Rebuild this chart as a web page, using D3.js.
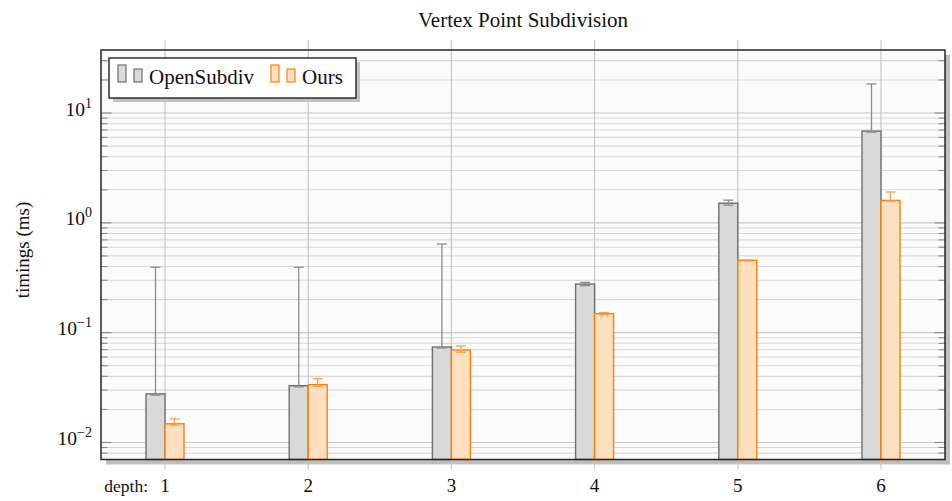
<!DOCTYPE html>
<html><head><meta charset="utf-8">
<script src="https://cdn.jsdelivr.net/npm/d3@7/dist/d3.min.js"></script>
<style>body{margin:0;background:#fff}svg{display:block}text{font-family:"Liberation Serif","Times New Roman",serif;fill:#111}</style>
</head><body><svg id="c" width="952" height="501"></svg>
<script>
const depths = [1, 2, 3, 4, 5, 6];
const openSubdiv   = [0.0277, 0.0329, 0.0740, 0.277, 1.51, 6.85];
const openSubdivHi = [0.394, 0.394, 0.641, 0.287, 1.61, 18.4];
const openSubdivLo = [0.0270, 0.0322, 0.0725, 0.268, 1.45, 6.7];
const ours   = [0.0148, 0.0336, 0.0695, 0.149, 0.456, 1.60];
const oursHi = [0.0164, 0.0381, 0.0757, 0.152, 0.460, 1.91];
const oursLo = [0.0144, 0.0326, 0.0665, 0.146, 0.450, 1.58];
const yTickExps = [-2, -1, 0, 1];
const seriesNames = ["OpenSubdiv", "Ours"];

const L = 101, R = 945, T = 50, B = 459.5;
const svg = d3.select("#c");
const x = d3.scaleLinear().domain([0.553, 6.447]).range([L, R]);
const y = d3.scaleLog().domain([0.007, 37.5]).range([B, T]);
const bw = 19;

// shadow + background
svg.append("rect").attr("x", L + 5).attr("y", T + 5).attr("width", R - L).attr("height", B - T).attr("fill", "#bfbfbf");
svg.append("rect").attr("x", L).attr("y", T).attr("width", R - L).attr("height", B - T).attr("fill", "#fbfbfb");

// grid
const minor = [];
for (let e = -3; e <= 2; e++) for (let m = 1; m <= 9; m++) { const v = m * Math.pow(10, e); if (v >= 0.007 && v <= 37.5) minor.push({v, major: m === 1}); }
const g = svg.append("g");
g.selectAll("line.h").data(minor).join("line")
  .attr("x1", L).attr("x2", R).attr("y1", d => y(d.v)).attr("y2", d => y(d.v))
  .attr("stroke", d => d.major ? "#c8c8c8" : "#d8d8d8").attr("stroke-width", 1.1);
g.selectAll("line.v").data(depths).join("line")
  .attr("x1", d => x(d)).attr("x2", d => x(d)).attr("y1", T - 10).attr("y2", B + 10)
  .attr("stroke", "#c4c4c4").attr("stroke-width", 1.1);
// y ticks inside left and right
[L, R].forEach((edge, i) => {
  const dir = i === 0 ? 1 : -1;
  g.selectAll(null).data(minor).join("line")
    .attr("x1", edge).attr("x2", d => edge + dir * (d.major ? 10.5 : 6.5))
    .attr("y1", d => y(d.v)).attr("y2", d => y(d.v))
    .attr("stroke", "#8a8a8a").attr("stroke-width", 1.1);
});

// bars
const gb = svg.append("g");
function drawSeries(vals, hi, lo, off, fill, stroke, err) {
  gb.selectAll(null).data(depths).join("rect")
    .attr("x", (d) => x(d) + off).attr("width", bw)
    .attr("y", (d, i) => y(vals[i])).attr("height", (d, i) => B - y(vals[i]))
    .attr("fill", fill).attr("stroke", stroke).attr("stroke-width", 1.4);
  const cx = d => x(d) + off + bw / 2;
  gb.selectAll(null).data(depths).join("line")
    .attr("x1", cx).attr("x2", cx).attr("y1", (d, i) => y(hi[i])).attr("y2", (d, i) => y(lo[i]))
    .attr("stroke", err).attr("stroke-width", 1.3);
  [hi, lo].forEach(arr => {
    gb.selectAll(null).data(depths).join("line")
      .attr("x1", d => cx(d) - 5).attr("x2", d => cx(d) + 5)
      .attr("y1", (d, i) => y(arr[i])).attr("y2", (d, i) => y(arr[i]))
      .attr("stroke", err).attr("stroke-width", 1.3);
  });
}
drawSeries(openSubdiv, openSubdivHi, openSubdivLo, -bw, "#d9d9d9", "#6e6e6e", "#8c8c8c");
drawSeries(ours, oursHi, oursLo, 0, "#ffdfbf", "#ff8000", "#ffa040");

// frame
svg.append("rect").attr("x", L).attr("y", T).attr("width", R - L).attr("height", B - T)
  .attr("fill", "none").attr("stroke", "#262626").attr("stroke-width", 1.5);

// y tick labels
const yl = svg.append("g");
yTickExps.forEach(e => {
  const t = yl.append("text").attr("x", 92).attr("y", y(Math.pow(10, e)) + 2.5).attr("text-anchor", "end").style("font-size", "19.5px");
  t.append("tspan").text("10");
  t.append("tspan").attr("dy", -8).style("font-size", "14px").text(e < 0 ? "\u2212" + (-e) : String(e));
});
// x tick labels
svg.selectAll("text.xt").data(depths).join("text")
  .attr("x", d => x(d)).attr("y", 492).attr("text-anchor", "middle").style("font-size", "19px").text(d => d);
svg.append("text").attr("x", 148).attr("y", 492).attr("text-anchor", "end").style("font-size", "17.5px").text("depth:");

// title + y label
svg.append("text").attr("x", 523).attr("y", 26.5).attr("text-anchor", "middle").style("font-size", "21px").text("Vertex Point Subdivision");
svg.append("text").attr("transform", "translate(29,250) rotate(-90)").attr("text-anchor", "middle").style("font-size", "19px").text("timings (ms)");

// legend
const lg = svg.append("g");
lg.append("rect").attr("x", 113).attr("y", 62).attr("width", 247).attr("height", 40).attr("fill", "#c2c2c2");
lg.append("rect").attr("x", 109).attr("y", 58).attr("width", 247).attr("height", 40).attr("fill", "#fff").attr("stroke", "#222").attr("stroke-width", 1.4);
const legendItems = [
  {name: seriesNames[0], x: 118, fill: "#d9d9d9", stroke: "#6e6e6e"},
  {name: seriesNames[1], x: 271, fill: "#ffdfbf", stroke: "#ff8000"}
];
legendItems.forEach(it => {
  lg.append("rect").attr("x", it.x).attr("y", 65).attr("width", 8).attr("height", 17).attr("fill", it.fill).attr("stroke", it.stroke).attr("stroke-width", 1.2);
  lg.append("rect").attr("x", it.x + 16).attr("y", 69).attr("width", 8).attr("height", 13).attr("fill", it.fill).attr("stroke", it.stroke).attr("stroke-width", 1.2);
  lg.append("text").attr("x", it.x + 31).attr("y", 84).style("font-size", "21px").text(it.name);
});
</script></body></html>
